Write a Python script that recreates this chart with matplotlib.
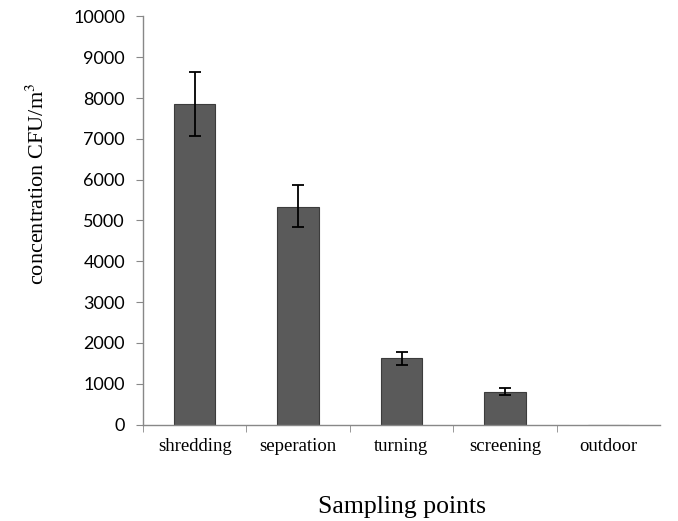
import numpy as np
import matplotlib.pyplot as plt

# data
categories = ["shredding", "seperation", "turning", "screening", "outdoor"]
concentration = [7850, 5330, 1620, 805, 0]
err_low = [780, 500, 155, 75, 0]
err_high = [800, 545, 155, 82, 0]
y_ticks = [0, 1000, 2000, 3000, 4000, 5000, 6000, 7000, 8000, 9000, 10000]

serif = "Liberation Serif"
sans = "Lato"

fig = plt.figure(figsize=(6.78, 5.21), dpi=100)
ax = fig.add_axes([143 / 678, 1 - 424.5 / 521, (660 - 143) / 678, (424.5 - 16.5) / 521])

x = np.arange(len(categories))
vals = np.array(concentration)
lo = np.array(err_low)
hi = np.array(err_high)

ax.bar(x, vals, width=0.4, color="#5a5a5a", edgecolor="#3c3c3c", linewidth=0.8)

# error bars only where there is a spread (outdoor shows none)
has_err = (lo + hi) > 0
ax.errorbar(x[has_err], vals[has_err], yerr=[lo[has_err], hi[has_err]], fmt="none",
            ecolor="black", elinewidth=1.3, capthick=1.3, capsize=4.5)

ax.set_xlim(-0.5, len(categories) - 0.5)
ax.set_ylim(0, 10000)
ax.set_yticks(y_ticks)
ax.set_yticklabels([str(v) for v in y_ticks], fontfamily=sans, fontsize=13)

# category labels centred, tick marks at the category boundaries
ax.set_xticks(x)
ax.set_xticklabels(categories, fontfamily=serif, fontsize=13.5)
ax.set_xticks(np.arange(len(categories)) - 0.5, minor=True)
ax.tick_params(axis="x", which="major", length=0, pad=10)
ax.tick_params(axis="x", which="minor", length=5, direction="out", color="#888888")
ax.tick_params(axis="y", length=5, direction="out", color="#888888", pad=8)

for side in ("top", "right"):
    ax.spines[side].set_visible(False)
for side in ("left", "bottom"):
    ax.spines[side].set_color("#888888")
    ax.spines[side].set_linewidth(1.0)

fig.text(38 / 678, 1 - 184 / 521, "concentration CFU/m$^3$", rotation=90,
         ha="center", va="center", fontfamily=serif, fontsize=16,
         math_fontfamily="stix")
fig.text(402 / 678, 1 - 507 / 521, "Sampling points", ha="center", va="center",
         fontfamily=serif, fontsize=18.5)

fig.savefig("out.png", dpi=100)
